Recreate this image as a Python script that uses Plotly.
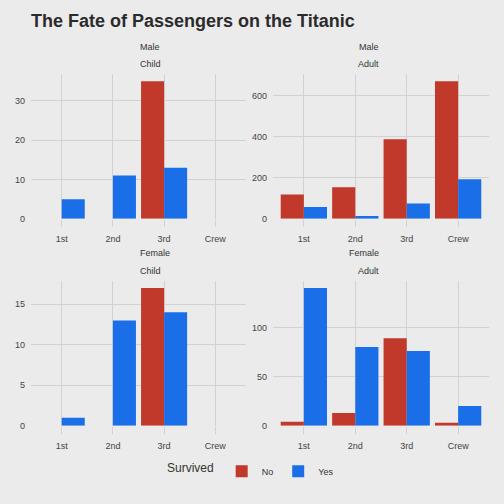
import plotly.graph_objects as go
from plotly.subplots import make_subplots

classes = ["1st", "2nd", "3rd", "Crew"]

male_child_no = [0, 0, 35, 0]
male_child_yes = [5, 11, 13, 0]
male_adult_no = [118, 154, 387, 670]
male_adult_yes = [57, 14, 75, 192]
female_child_no = [0, 0, 17, 0]
female_child_yes = [1, 13, 14, 0]
female_adult_no = [4, 13, 89, 3]
female_adult_yes = [140, 80, 76, 20]

RED = "#C0392B"
BLUE = "#1A6FE8"
BG = "#EBEBEB"
GRID = "#D2D2D2"
FONT = "Liberation Sans, Arial, sans-serif"

panels = [
    (1, 1, "Male", "Child", male_child_no, male_child_yes, [0, 10, 20, 30]),
    (1, 2, "Male", "Adult", male_adult_no, male_adult_yes, [0, 200, 400, 600]),
    (2, 1, "Female", "Child", female_child_no, female_child_yes, [0, 5, 10, 15]),
    (2, 2, "Female", "Adult", female_adult_no, female_adult_yes, [0, 50, 100]),
]

fig = make_subplots(rows=2, cols=2)

W = 504
H = 504
xdom = {1: [31 / W, 246 / W], 2: [273 / W, 489 / W]}
ydom = {1: [1 - 221 / H, 1 - 75 / H], 2: [1 - 430 / H, 1 - 284 / H]}

for i, (r, c, sex, age, no, yes, ticks) in enumerate(panels):
    fig.add_trace(go.Bar(x=classes, y=no, name="No", marker_color=RED,
                         marker_line_width=0, showlegend=(i == 0),
                         legendgroup="No"), row=r, col=c)
    fig.add_trace(go.Bar(x=classes, y=yes, name="Yes", marker_color=BLUE,
                         marker_line_width=0, showlegend=(i == 0),
                         legendgroup="Yes"), row=r, col=c)
    ymax = max(max(no), max(yes)) * 1.05
    fig.update_xaxes(domain=xdom[c], range=[-0.6, 3.6], showgrid=True,
                     gridcolor=GRID, gridwidth=1, zeroline=False, showline=False,
                     ticks="outside", ticklen=7, tickcolor=GRID, tickwidth=1,
                     ticklabelstandoff=4,
                     tickfont=dict(size=9, color="#444444", family=FONT),
                     row=r, col=c)
    fig.update_yaxes(domain=ydom[r], range=[0, ymax], tickvals=ticks,
                     showgrid=True, gridcolor=GRID, gridwidth=1, zeroline=False,
                     showline=False, ticks="", ticklabelstandoff=5,
                     tickfont=dict(size=9, color="#444444", family=FONT),
                     row=r, col=c)
    xc = (xdom[c][0] + xdom[c][1]) / 2
    ytop = ydom[r][1]
    fig.add_annotation(x=xc, y=ytop + 28 / H, xref="paper", yref="paper",
                       text=sex, showarrow=False, yanchor="middle",
                       font=dict(size=9, color="#333333", family=FONT))
    fig.add_annotation(x=xc, y=ytop + 10 / H, xref="paper", yref="paper",
                       text=age, showarrow=False, yanchor="middle",
                       font=dict(size=9, color="#333333", family=FONT))

fig.update_layout(
    width=W, height=H,
    margin=dict(l=0, r=0, t=0, b=0),
    paper_bgcolor=BG, plot_bgcolor=BG,
    barmode="group", bargap=0.1, bargroupgap=0,
    font=dict(family=FONT, color="#333333"),
    title=dict(text="<b>The Fate of Passengers on the Titanic</b>",
               x=31 / W, xanchor="left", y=1 - 21 / H, yanchor="middle",
               font=dict(size=18, color="#2b2b2b", family=FONT)),
    legend=dict(orientation="h", x=0.5, xanchor="center", y=1 - 476 / H,
                yanchor="middle", bgcolor="rgba(0,0,0,0)",
                title=dict(text="Survived", font=dict(size=12, color="#333333")),
                font=dict(size=9, color="#333333"), traceorder="normal"),
)

# drop the default body margin so the figure sits flush in the window
fig.write_html("out.html", config={"displayModeBar": False},
               post_script="document.body.style.margin='0';"
                           "document.body.style.background='#EBEBEB';"
                           "document.body.style.overflow='hidden';")
